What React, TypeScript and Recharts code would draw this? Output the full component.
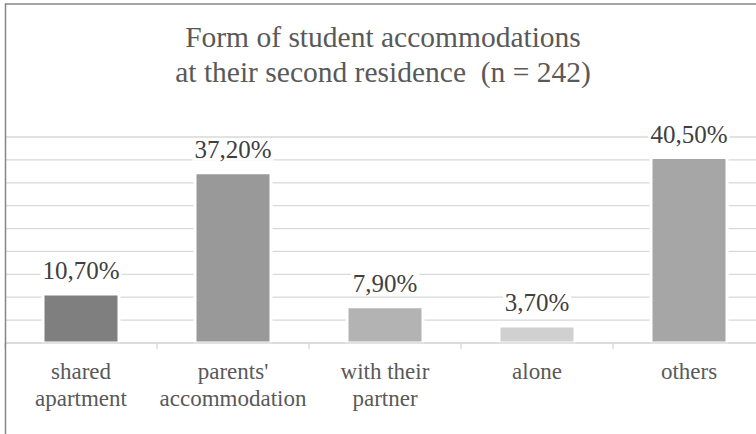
import React from 'react';
import { BarChart, Bar, XAxis, YAxis, CartesianGrid, Cell, LabelList } from 'recharts';

const categories = ['shared apartment', "parents' accommodation", 'with their partner', 'alone', 'others'];
const shares = [10.7, 37.2, 7.9, 3.7, 40.5];
const barColors = ['#7f7f7f', '#999999', '#b3b3b3', '#d0d0d0', '#a6a6a6'];
const yTicks = [0, 5, 10, 15, 20, 25, 30, 35, 40, 45];
const titleLines = ['Form of student accommodations', 'at their second residence  (n = 242)'];

const chartData = categories.map((name, i) => ({ name, share: shares[i] }));

const FONT = "'Liberation Serif', 'DejaVu Serif', Tinos, 'Times New Roman', Times, serif";
const CHART_W = 780;
const CHART_H = 434;
const MARGIN = { top: 137, right: 15, left: 5, bottom: 21 };
const BAND = (CHART_W - MARGIN.left - MARGIN.right) / categories.length;

const CategoryTick = (props: any) => {
  const { x, y, payload, index } = props;
  const label: string = payload.value;
  const cut = label.lastIndexOf(' ');
  const lines = cut > 0 ? [label.slice(0, cut), label.slice(cut + 1)] : [label];
  return (
    <g>
      <line x1={x - BAND / 2} x2={x - BAND / 2} y1={y} y2={y + 6} stroke="#d9d9d9" strokeWidth={1.3} />
      {index === categories.length - 1 && (
        <line x1={x + BAND / 2} x2={x + BAND / 2} y1={y} y2={y + 6} stroke="#d9d9d9" strokeWidth={1.3} />
      )}
      <text x={x} y={y} textAnchor="middle" fill="#595959" style={{ fontSize: 23, fontFamily: FONT }}>
        {lines.map((l, i) => (
          <tspan key={i} x={x} dy={i === 0 ? 36 : 27}>
            {l}
          </tspan>
        ))}
      </text>
    </g>
  );
};

// rough glyph widths for the white box behind each value label
const glyphWidth = (c: string) => (c === ',' ? 0.25 : c === '%' ? 0.833 : 0.5);

const ValueLabel = (props: any) => {
  const vb = props.viewBox || props;
  const x = props.x ?? vb.x;
  const y = props.y ?? vb.y;
  const width = props.width ?? vb.width;
  const text = Number(props.value).toFixed(2).replace('.', ',') + '%';
  const cx = x + width / 2;
  const base = y - 15;
  const w = text.split('').reduce((s, c) => s + glyphWidth(c), 0) * 25;
  return (
    <g>
      <rect x={cx - w / 2 - 2} y={base - 19} width={w + 4} height={22} fill="#ffffff" />
      <text x={cx} y={base} textAnchor="middle" fill="#404040" style={{ fontSize: 25, fontFamily: FONT }}>
        {text}
      </text>
    </g>
  );
};

export default function App() {
  return (
    <div
      style={{
        position: 'absolute',
        left: 0,
        top: 0,
        width: 756,
        height: 434,
        overflow: 'hidden',
        background: '#ffffff',
        fontFamily: FONT,
      }}
    >
      <BarChart
        width={CHART_W}
        height={CHART_H}
        data={chartData}
        margin={MARGIN}
        barCategoryGap="25%"
      >
        <CartesianGrid vertical={false} stroke="#d9d9d9" strokeWidth={1.3} />
        <YAxis hide domain={[0, 45]} ticks={yTicks} interval={0} />
        <XAxis
          dataKey="name"
          height={70}
          axisLine={{ stroke: '#d9d9d9', strokeWidth: 1.3 }}
          tickLine={false}
          tickSize={0}
          tickMargin={0}
          interval={0}
          tick={<CategoryTick />}
        />
        <Bar dataKey="share" isAnimationActive={false} stroke="#ffffff" strokeWidth={3}>
          {chartData.map((d, i) => (
            <Cell key={d.name} fill={barColors[i]} />
          ))}
          <LabelList dataKey="share" content={<ValueLabel />} />
        </Bar>
      </BarChart>
      <svg
        width={756}
        height={434}
        style={{ position: 'absolute', left: 0, top: 0, pointerEvents: 'none' }}
      >
        {titleLines.map((t, i) => (
          <text
            key={i}
            x={383}
            y={47 + i * 34.7}
            textAnchor="middle"
            fill="#595959"
            style={{ whiteSpace: 'pre', fontSize: 29.5, fontFamily: FONT }}
          >
            {t}
          </text>
        ))}
        <line x1={5.5} x2={5.5} y1={3.5} y2={434} stroke="#868686" strokeWidth={1.5} />
        <line x1={5} x2={756} y1={4} y2={4} stroke="#868686" strokeWidth={1.5} />
      </svg>
    </div>
  );
}
